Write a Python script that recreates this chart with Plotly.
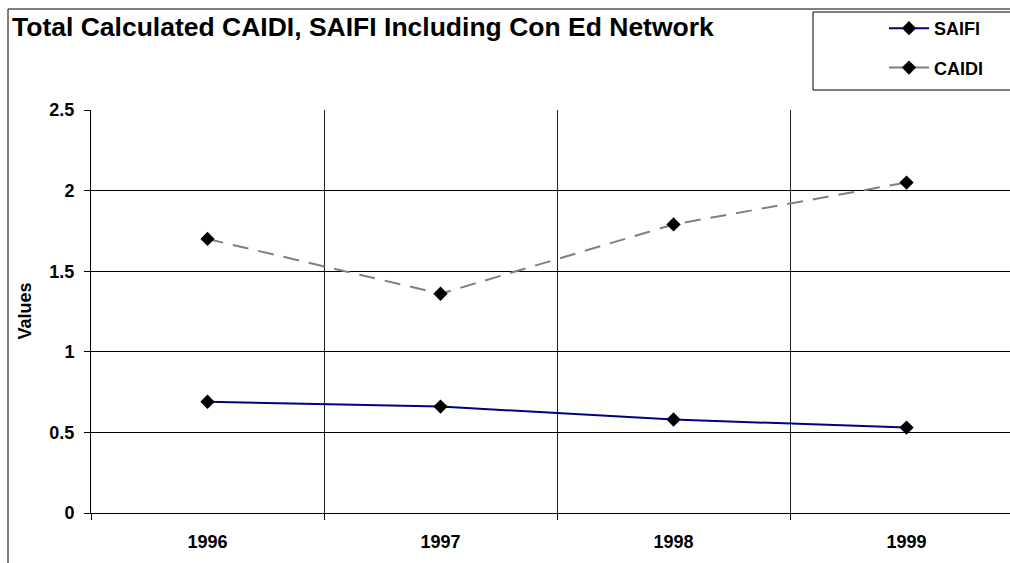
import plotly.graph_objects as go

# data
years = ["1996", "1997", "1998", "1999"]
saifi = [0.69, 0.66, 0.58, 0.53]
caidi = [1.70, 1.36, 1.79, 2.05]
y_ticks = [0, 0.5, 1, 1.5, 2, 2.5]

W, H = 1010, 563
L, T, B, R = 91, 110, 50, 0
pw, ph = W - L - R, H - T - B


def px_x(p):
    return (p - L) / pw


def px_y(p):
    return (H - B - p) / ph


font = "Liberation Sans, Arial, sans-serif"

fig = go.Figure()
fig.add_trace(go.Scatter(
    x=years, y=saifi, name="SAIFI", mode="lines+markers",
    line=dict(color="#000080", width=2),
    marker=dict(symbol="diamond", size=11, color="black"),
    legendgroup="a",
))
fig.add_trace(go.Scatter(
    x=years, y=caidi, name="CAIDI", mode="lines+markers",
    line=dict(color="#808080", width=2, dash="16px,10px"),
    marker=dict(symbol="diamond", size=11, color="black"),
    legendgroup="b",
))

# outer chart frame and legend box
fig.add_shape(type="rect", xref="paper", yref="paper",
              x0=px_x(8), x1=px_x(1030), y0=px_y(600), y1=px_y(9),
              line=dict(color="black", width=1), layer="below")
fig.add_shape(type="rect", xref="paper", yref="paper",
              x0=px_x(813), x1=px_x(1030), y0=px_y(90), y1=px_y(12),
              line=dict(color="black", width=1), fillcolor="white")

# y axis title
fig.add_annotation(text="<b>Values</b>", xref="paper", yref="paper",
                   x=px_x(24), y=0.5, textangle=-90, showarrow=False,
                   xanchor="center", yanchor="middle",
                   font=dict(family=font, size=18, color="black"))

fig.update_layout(
    width=W, height=H,
    margin=dict(l=L, r=R, t=T, b=B),
    paper_bgcolor="white", plot_bgcolor="white",
    font=dict(family=font, color="black", size=18),
    title=dict(text="<b>Total Calculated CAIDI, SAIFI Including Con Ed Network</b>",
               xref="container", yref="container", x=12 / W, xanchor="left",
               y=1 - 27 / H, yanchor="middle",
               font=dict(family=font, size=26.5, color="black")),
    legend=dict(x=px_x(884), xanchor="left", y=px_y(10), yanchor="top",
                bgcolor="rgba(0,0,0,0)", borderwidth=0,
                traceorder="grouped", tracegroupgap=13,
                font=dict(family=font, size=18, weight="bold"),
                itemwidth=40),
    xaxis=dict(type="category", range=[-0.5, 3.444],
               tickson="boundaries", ticks="outside", ticklen=6,
               tickcolor="black", showgrid=True, gridcolor="#202020", gridwidth=1,
               showline=True, linecolor="black", linewidth=1,
               ticklabelstandoff=12,
               tickfont=dict(family=font, size=18, weight="bold"),
               fixedrange=True),
    yaxis=dict(range=[0, 2.5], tickvals=y_ticks, ticks="outside", ticklen=6,
               tickcolor="black", showgrid=True, gridcolor="black", gridwidth=1,
               showline=True, linecolor="black", linewidth=1, zeroline=False,
               ticklabelstandoff=6,
               tickfont=dict(family=font, size=18, weight="bold")),
)

fig.write_html("out.html", config={"displayModeBar": False},
               post_script="document.body.style.margin='0';")
